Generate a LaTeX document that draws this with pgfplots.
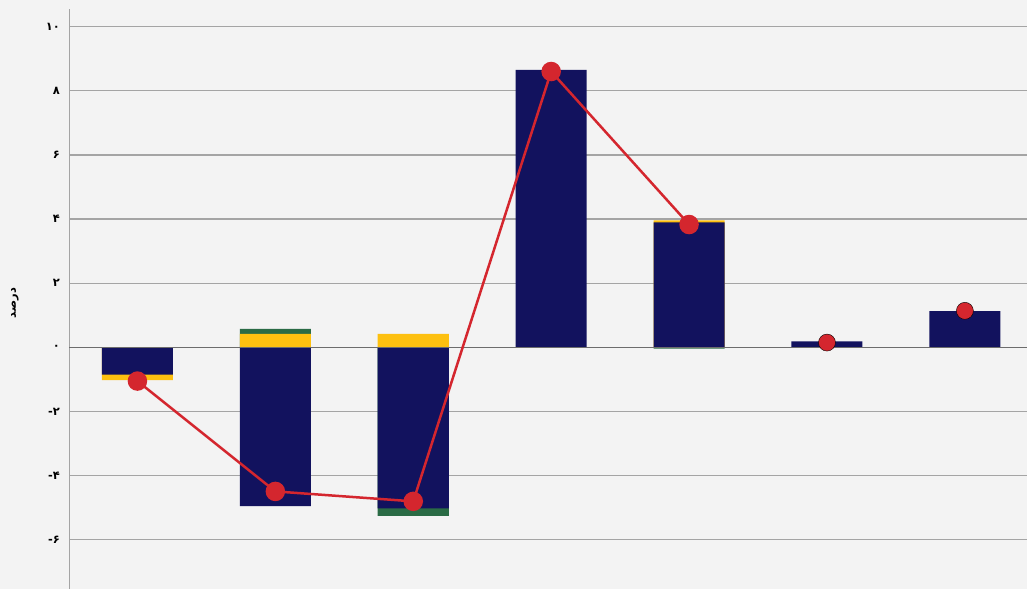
\documentclass[border=0pt]{standalone}
\usepackage{pgfplots}
\pgfplotsset{compat=1.18}
\usepackage{fontspec}
\TeXXeTstate=1
\newfontfamily\arabicfont[Script=Arabic]{DejaVu Sans}
\setmainfont{DejaVu Sans}

\definecolor{barnavy}{HTML}{12125E}
\definecolor{baryellow}{HTML}{FDC010}
\definecolor{bargreen}{HTML}{2A6B45}
\definecolor{linered}{HTML}{D4262E}
\definecolor{gridgray}{HTML}{A4A4A4}
\definecolor{bggray}{HTML}{F3F3F3}

% Outer end of each coloured segment, measured from zero.
% Segments are drawn outermost first so the inner ones sit on top.
\pgfplotstableread{
x  green  yellow  navy
0   0     -1.02   -0.85
1   0.58   0.42   -4.95
2  -5.25   0.42   -5.02
3   0      0       8.65
4  -0.04   3.96    3.90
5   0      0       0.19
6   0      0       1.13
}\segments

% Total change
\pgfplotstableread{
x  total
0  -1.05
1  -4.49
2  -4.80
3   8.60
4   3.83
}\totalline
\pgfplotstableread{
x  total
5   0.15
6   1.14
}\totalpoints

\begin{document}
\begin{tikzpicture}[x=1bp,y=1bp]
  \fill[bggray] (0,0) rectangle (1028,589);
  \begin{axis}[
    at={(69.5bp,0bp)}, anchor=south west,
    scale only axis,
    width=958.5bp, height=579.7bp,
    xmin=-0.493, xmax=6.453,
    ymin=-7.52, ymax=10.54,
    axis y line=left, axis x line=none,
    axis line style={-, gridgray, line width=1.2bp},
    ytick={-6,-4,-2,0,2,4,6,8,10},
    yticklabels={-۶,-۴,-۲,۰,۲,۴,۶,۸,۱۰},
    yticklabel style={font=\fontsize{11.5}{12}\selectfont\bfseries, text=black, xshift=-6bp},
    major tick length=0pt,
    ymajorgrids,
    grid style={gridgray, line width=1.2bp},
    ylabel={\arabicfont\bfseries\beginR درصد\endR},
    every axis y label/.style={at={(axis description cs:-0.057,0.493)}, rotate=90, anchor=center,
      font=\fontsize{11.5}{12}\selectfont},
    clip=false,
  ]
    \addplot[ybar, bar width=0.515, bar shift=0pt, fill=bargreen, draw=none] table[x=x, y=green] {\segments};
    \addplot[ybar, bar width=0.515, bar shift=0pt, fill=baryellow, draw=none] table[x=x, y=yellow] {\segments};
    \addplot[ybar, bar width=0.515, bar shift=0pt, fill=barnavy, draw=none] table[x=x, y=navy] {\segments};
    \draw[gray!85!black, line width=1.3bp] (axis cs:-0.493,0) -- (axis cs:6.453,0);
    \addplot[linered, line width=2.5bp, mark=*, mark size=8.5bp,
      mark options={fill=linered, draw=none}] table[x=x, y=total] {\totalline};
    \addplot[only marks, mark=*, mark size=8.5bp,
      mark options={fill=linered, draw=none}] table[x=x, y=total] {\totalpoints};
  \end{axis}
\end{tikzpicture}
\end{document}
